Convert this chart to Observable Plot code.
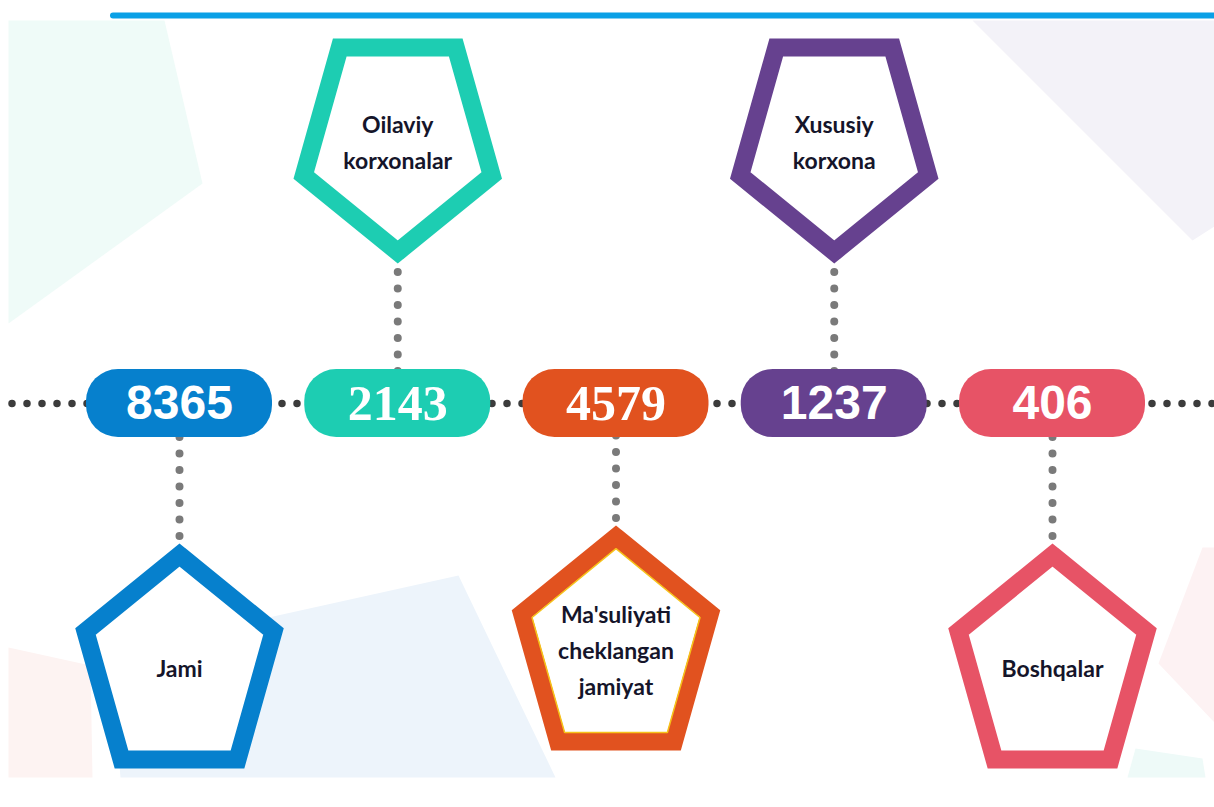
<!DOCTYPE html>
<html><head><meta charset="utf-8">
<script src="https://cdn.jsdelivr.net/npm/d3@7"></script>
<script src="https://cdn.jsdelivr.net/npm/@observablehq/plot@0.6"></script>
<style>html,body{margin:0;padding:0;background:#fff;overflow:hidden}</style>
</head><body><div id="chart"></div>
<script>
// ---- data ----
const categories = ["Jami", "Oilaviy\nkorxonalar", "Ma'suliyati\ncheklangan\njamiyat", "Xususiy\nkorxona", "Boshqalar"];
const values = [8365, 2143, 4579, 1237, 406];

// ---- styles / layout ----
const palette = ["#0680cd", "#1dcdb2", "#e1521f", "#66418f", "#e75366"];
const side = ["below", "above", "below", "above", "below"];
const connectorLength = [140, 140, 122, 140, 140];
const serifIdx = [1, 2];

const W = 1214, H = 807, X0 = 179, STEP = 218.25, LINE_Y = 403;
const ux = p => (p - X0) / STEP;

const rows = values.map((v, i) => ({
  i, v, label: categories[i], c: palette[i], side: side[i],
  tip: side[i] === "below" ? LINE_Y + connectorLength[i] : LINE_Y - connectorLength[i]
}));

// pentagon outlines (centerline of a thick stroke), relative to tip
const pentCenter = [[0, 11.6], [94, 88], [58, 216], [-58, 216], [-94, 88]];
const pentInner = [[0, 23.2], [84, 92], [51.4, 207], [-51.4, 207], [-84, 92]];
function pentPts(r, shape) {
  const s = r.side === "below" ? 1 : -1;
  const pts = shape.concat([shape[0], shape[1]]);
  return pts.map(([dx, dy]) => ({k: r.i, c: r.c, x: r.i + dx / STEP, y: r.tip + s * dy}));
}
const pentRows = rows.flatMap(r => pentPts(r, pentCenter));
const innerRows = rows.filter(r => r.i === 2).flatMap(r => pentPts(r, pentInner));

// faint decorative background shapes
const bgShapes = [
  {c: "#effbf8", pts: [[8, 20], [164, 20], [202, 183], [8, 323]]},
  {c: "#f3f2f8", pts: [[972, 20], [1214, 20], [1214, 226], [1192, 240]]},
  {c: "#fdf3f2", pts: [[8, 647], [90, 665], [92, 777], [8, 777]]},
  {c: "#edf4fb", pts: [[120, 777], [110, 652], [458, 575], [555, 777]]},
  {c: "#fdf2f3", pts: [[1202, 547], [1214, 547], [1214, 722], [1158, 663]]},
  {c: "#eefaf8", pts: [[1135, 748], [1202, 758], [1205, 777], [1127, 777]]}
];
const bgRows = bgShapes.flatMap((s, k) => s.pts.map(([x, y]) => ({k, c: s.c, x: ux(x), y})));

const HALF_W = 93 / STEP;

const chart = Plot.plot({
  width: W, height: H, margin: 0,
  x: {domain: [ux(0), ux(W)], axis: null},
  y: {domain: [0, H], range: [0, H], axis: null},
  color: {type: "identity"},
  style: {background: "white", overflow: "visible"},
  marks: [
    Plot.line(bgRows, {x: "x", y: "y", z: "k", fill: "c", stroke: "none", curve: "linear-closed"}),
    Plot.ruleY([15], {x1: ux(113), x2: ux(W), stroke: "#0aa0e6", strokeWidth: 6, strokeLinecap: "round"}),
    Plot.ruleY([LINE_Y], {x1: ux(12), x2: ux(W), stroke: "#3c3c3c", strokeWidth: 7.5, strokeDasharray: "0 15", strokeLinecap: "round"}),
    Plot.ruleX(rows, {x: "i",
      y1: r => r.side === "below" ? r.tip - 7 : r.tip + 9,
      y2: LINE_Y, stroke: "#7a7a7a", strokeWidth: 8, strokeDasharray: "0 16.5", strokeLinecap: "round"}),
    Plot.line(pentRows, {x: "x", y: "y", z: "k", stroke: "c", fill: "white", strokeWidth: 18, strokeLinejoin: "miter", strokeMiterlimit: 10}),
    Plot.line(innerRows, {x: "x", y: "y", z: "k", stroke: "#f6c21a", fill: "none", strokeWidth: 1.5, strokeLinejoin: "miter"}),
    Plot.rect(rows, {x1: r => r.i - HALF_W, x2: r => r.i + HALF_W, y1: LINE_Y - 34, y2: LINE_Y + 34, fill: "c", rx: 32}),
    Plot.text(rows.filter(r => !serifIdx.includes(r.i)), {x: "i", y: LINE_Y, text: r => String(r.v), fill: "white",
      fontSize: 48, fontWeight: "bold", fontFamily: "Liberation Sans, Arial, sans-serif"}),
    Plot.text(rows.filter(r => serifIdx.includes(r.i)), {x: "i", y: LINE_Y, text: r => String(r.v), fill: "white",
      fontSize: 50, fontWeight: "bold", fontFamily: "Liberation Serif, Times New Roman, serif"}),
    Plot.text(rows, {x: "i", y: r => r.side === "below" ? r.tip + 122 : r.tip - 124, text: "label",
      fill: "#15152a", fontSize: 23, fontWeight: "bold", fontFamily: "Lato, sans-serif", lineHeight: 1.57})
  ]
});
document.getElementById("chart").appendChild(chart);
</script>
</body></html>
